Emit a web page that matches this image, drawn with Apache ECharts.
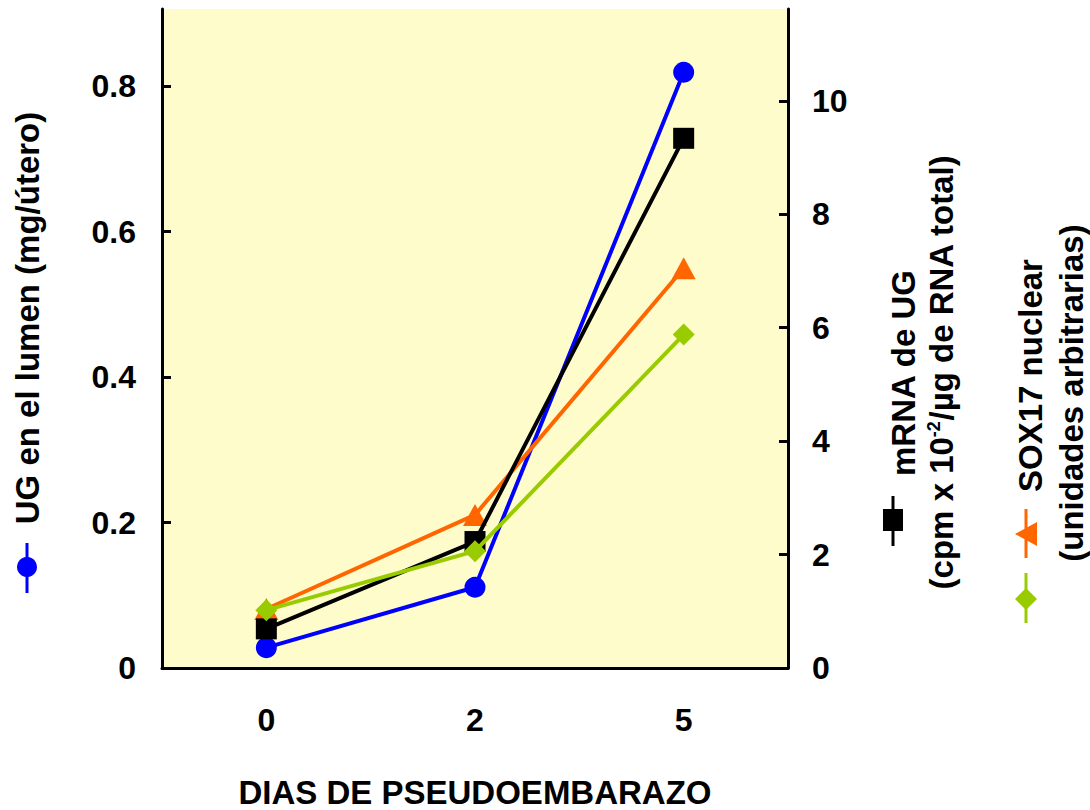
<!DOCTYPE html>
<html>
<head>
<meta charset="utf-8">
<script src="https://cdn.jsdelivr.net/npm/echarts@6/dist/echarts.min.js"></script>
<style>
html,body{margin:0;padding:0;background:#fff;}
#chart{width:1090px;height:810px;}
</style>
</head>
<body>
<div id="chart"></div>
<script>
// ---- data ----
const categories = ['0', '2', '5'];
const ugLumen = [0.028, 0.111, 0.819];       // left axis (mg/útero), blue circles
const mrnaUG = [0.69, 2.23, 9.34];            // right axis, black squares
const sox17Orange = [1.04, 2.70, 7.05];       // right axis, orange triangles
const sox17Green = [1.02, 2.06, 5.88];        // right axis, green diamonds
const leftTicks = [0, 0.2, 0.4, 0.6, 0.8];
const rightTicks = [0, 2, 4, 6, 8, 10];
const xTitle = 'DIAS DE PSEUDOEMBARAZO';
const leftTitle = 'UG en el lumen (mg/útero)';
const mrnaTitle1 = 'mRNA de UG';
const mrnaTitle2 = '(cpm x 10{sup|-2}/µg de RNA total)';
const soxTitle1 = 'SOX17 nuclear';
const soxTitle2 = '(unidades arbitrarias)';

const FONT = '"Liberation Sans", Arial, sans-serif';
const TFS = 33; // title font size
const chart = echarts.init(document.getElementById('chart'), null, {renderer: 'svg'});

function txt(x, y, text, align, rich, fs) {
  const el = {
    type: 'text', x: x, y: y, rotation: Math.PI / 2,
    style: {
      text: text, fill: '#000',
      font: 'bold ' + (fs || TFS) + 'px ' + FONT,
      textAlign: align, textVerticalAlign: 'middle',
      align: align, verticalAlign: 'middle'
    }
  };
  if (rich) el.style.rich = rich;
  return el;
}

const option = {
  backgroundColor: '#ffffff',
  animation: false,
  grid: {left: 162, right: 302, top: 9, bottom: 142, show: true,
         backgroundColor: '#FFFCCC', borderWidth: 0,
         containLabel: false, outerBoundsMode: 'none'},
  xAxis: {
    type: 'category', data: categories, boundaryGap: true,
    axisLine: {lineStyle: {color: '#000', width: 3}},
    axisTick: {show: false},
    axisLabel: {color: '#000', fontFamily: FONT, fontWeight: 'bold', fontSize: 32, margin: 36},
    name: xTitle, nameLocation: 'middle', nameGap: 108,
    nameTextStyle: {color: '#000', fontFamily: FONT, fontWeight: 'bold', fontSize: TFS}
  },
  yAxis: [
    {
      type: 'value', position: 'left', min: 0, max: 0.906,
      axisLine: {show: true, lineStyle: {color: '#000', width: 3}},
      axisTick: {show: true, inside: true, length: 9, lineStyle: {width: 3, color: '#000'}, customValues: leftTicks},
      axisLabel: {color: '#000', fontFamily: FONT, fontWeight: 'bold', fontSize: 32, margin: 26,
                  customValues: leftTicks,
                  formatter: v => (v === 0 ? '0' : v.toFixed(1))},
      splitLine: {show: false}
    },
    {
      type: 'value', position: 'right', min: 0, max: 11.62,
      axisLine: {show: true, lineStyle: {color: '#000', width: 3}},
      axisTick: {show: true, inside: true, length: 9, lineStyle: {width: 3, color: '#000'}, customValues: rightTicks},
      axisLabel: {color: '#000', fontFamily: FONT, fontWeight: 'bold', fontSize: 32, margin: 24,
                  customValues: rightTicks},
      splitLine: {show: false}
    }
  ],
  series: [
    {name: 'UG en el lumen', type: 'line', yAxisIndex: 0, data: ugLumen,
     symbol: 'circle', symbolSize: 21, color: '#0000FF',
     lineStyle: {width: 4, color: '#0000FF'}, itemStyle: {color: '#0000FF'}, z: 2},
    {name: 'SOX17 nuclear (naranja)', type: 'line', yAxisIndex: 1, data: sox17Orange,
     symbol: 'triangle', symbolSize: [24, 22], color: '#FF6600',
     lineStyle: {width: 4, color: '#FF6600'}, itemStyle: {color: '#FF6600'}, z: 3},
    {name: 'mRNA de UG', type: 'line', yAxisIndex: 1, data: mrnaUG,
     symbol: 'rect', symbolSize: 21, color: '#000000',
     lineStyle: {width: 4, color: '#000000'}, itemStyle: {color: '#000000'}, z: 4},
    {name: 'SOX17 nuclear (verde)', type: 'line', yAxisIndex: 1, data: sox17Green,
     symbol: 'diamond', symbolSize: [22, 22], color: '#99CC00',
     lineStyle: {width: 4, color: '#99CC00'}, itemStyle: {color: '#99CC00'}, z: 5}
  ],
  graphic: [
    // left title + blue key
    txt(27, 318, leftTitle, 'center', null, 33),
    {type: 'line', shape: {x1: 27, y1: 543, x2: 27, y2: 593}, style: {stroke: '#0000FF', lineWidth: 3}},
    {type: 'circle', shape: {cx: 27, cy: 567, r: 10}, style: {fill: '#0000FF'}},
    // mRNA title + black key
    txt(903, 476, mrnaTitle1, 'left'),
    txt(941, 372, mrnaTitle2, 'center',
        {sup: {font: 'bold 18px ' + FONT, verticalAlign: 'top', fill: '#000'}}),
    {type: 'line', shape: {x1: 893, y1: 496, x2: 893, y2: 546}, style: {stroke: '#000', lineWidth: 3}},
    {type: 'rect', shape: {x: 883, y: 509, width: 20, height: 22}, style: {fill: '#000'}},
    // SOX17 title + orange / green keys
    txt(1030, 492, soxTitle1, 'left'),
    txt(1071, 393, soxTitle2, 'center'),
    {type: 'line', shape: {x1: 1026, y1: 509, x2: 1026, y2: 558}, style: {stroke: '#FF6600', lineWidth: 3}},
    {type: 'polygon', shape: {points: [[1015, 534], [1037, 522], [1037, 546]]}, style: {fill: '#FF6600'}},
    {type: 'line', shape: {x1: 1026, y1: 573, x2: 1026, y2: 623}, style: {stroke: '#99CC00', lineWidth: 3}},
    {type: 'polygon', shape: {points: [[1026, 588], [1037, 599], [1026, 610], [1015, 599]]}, style: {fill: '#99CC00'}}
  ]
};
chart.setOption(option);
</script>
</body>
</html>
